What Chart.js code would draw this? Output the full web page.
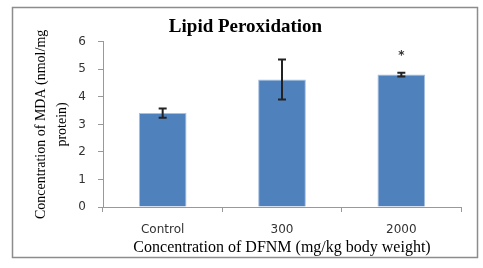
<!DOCTYPE html>
<html>
<head>
<meta charset="utf-8">
<script src="https://cdn.jsdelivr.net/npm/chart.js@4"></script>
<style>
  html, body { margin: 0; padding: 0; background: #fff; }
  #wrap { width: 483px; height: 268px; }
</style>
</head>
<body>
<div id="wrap"><canvas id="chart" width="483" height="268"></canvas></div>
<script>
// data
const groups = ['Control', '300', '2000'];
const mdaMean = [3.41, 4.63, 4.81];
const mdaErr = [0.17, 0.73, 0.07];
const marks = ['', '', '*'];
const yTicks = [0, 1, 2, 3, 4, 5, 6];

const serif = "'Liberation Serif', 'Times New Roman', serif";
const sans = "'DejaVu Sans', Verdana, sans-serif";

// outer frame round the whole figure
const framePlugin = {
  id: 'frame',
  beforeDraw(chart) {
    const ctx = chart.ctx;
    ctx.save();
    ctx.fillStyle = '#fff';
    ctx.fillRect(0, 0, chart.width, chart.height);
    ctx.strokeStyle = '#8c8c8c';
    ctx.lineWidth = 1.5;
    ctx.strokeRect(12.5, 7.5, 465, 250);
    ctx.restore();
  }
};

// error bars + significance mark
const errorBarPlugin = {
  id: 'errorBars',
  afterDatasetsDraw(chart) {
    const ctx = chart.ctx;
    const y = chart.scales.y;
    const meta = chart.getDatasetMeta(0);
    ctx.save();
    ctx.strokeStyle = '#222';
    ctx.lineWidth = 2;
    meta.data.forEach((bar, i) => {
      const top = y.getPixelForValue(mdaMean[i] + mdaErr[i]);
      const bot = y.getPixelForValue(mdaMean[i] - mdaErr[i]);
      const x = bar.x;
      ctx.beginPath();
      ctx.moveTo(x, top); ctx.lineTo(x, bot);
      ctx.moveTo(x - 4, top); ctx.lineTo(x + 4, top);
      ctx.moveTo(x - 4, bot); ctx.lineTo(x + 4, bot);
      ctx.stroke();
      if (marks[i]) {
        ctx.fillStyle = '#333';
        ctx.font = 'bold 12px ' + sans;
        ctx.textAlign = 'center';
        ctx.textBaseline = 'middle';
        ctx.fillText(marks[i], x, y.getPixelForValue(mdaMean[i] + mdaErr[i] + 0.6));
      }
    });
    ctx.restore();
  }
};

new Chart(document.getElementById('chart').getContext('2d'), {
  type: 'bar',
  data: {
    labels: groups,
    datasets: [{
      data: mdaMean,
      backgroundColor: '#4f81bd',
      borderColor: '#a8c0e0',
      borderWidth: { top: 1, left: 1, right: 1, bottom: 0 },
      barPercentage: 0.4,
      categoryPercentage: 1.0
    }]
  },
  options: {
    responsive: false,
    animation: false,
    layout: { padding: { left: 30, right: 22, top: 10, bottom: 9 } },
    plugins: {
      legend: { display: false },
      tooltip: { enabled: false },
      title: {
        display: true,
        text: 'Lipid Peroxidation',
        color: '#000',
        font: { family: serif, size: 19, weight: 'bold' },
        padding: { top: 6, bottom: 3 }
      }
    },
    scales: {
      x: {
        offset: true,
        afterFit(axis) { axis.height = 52; },
        grid: { display: true, offset: true, drawOnChartArea: false, tickLength: 5, color: '#999' },
        border: { color: '#999', width: 1 },
        ticks: { color: '#333', font: { family: sans, size: 12 }, padding: 11 },
        title: {
          display: true,
          text: 'Concentration of DFNM (mg/kg body weight)',
          color: '#000',
          font: { family: serif, size: 16 },
          padding: { top: 0, bottom: 1.5 }
        }
      },
      y: {
        min: 0,
        max: 6,
        afterBuildTicks(axis) { axis.ticks = yTicks.map(v => ({ value: v })); },
        afterFit(axis) { axis.width = 73; },
        grid: { display: true, drawOnChartArea: false, tickLength: 5, color: '#999' },
        border: { color: '#999', width: 1 },
        ticks: { color: '#333', font: { family: sans, size: 12 }, padding: 12 },
        title: {
          display: true,
          text: ['Concentration of MDA (nmol/mg', 'protein)'],
          color: '#000',
          font: { family: serif, size: 14, lineHeight: 1.5 },
          padding: { top: 1, bottom: 0 }
        }
      }
    }
  },
  plugins: [framePlugin, errorBarPlugin]
});
</script>
</body>
</html>
